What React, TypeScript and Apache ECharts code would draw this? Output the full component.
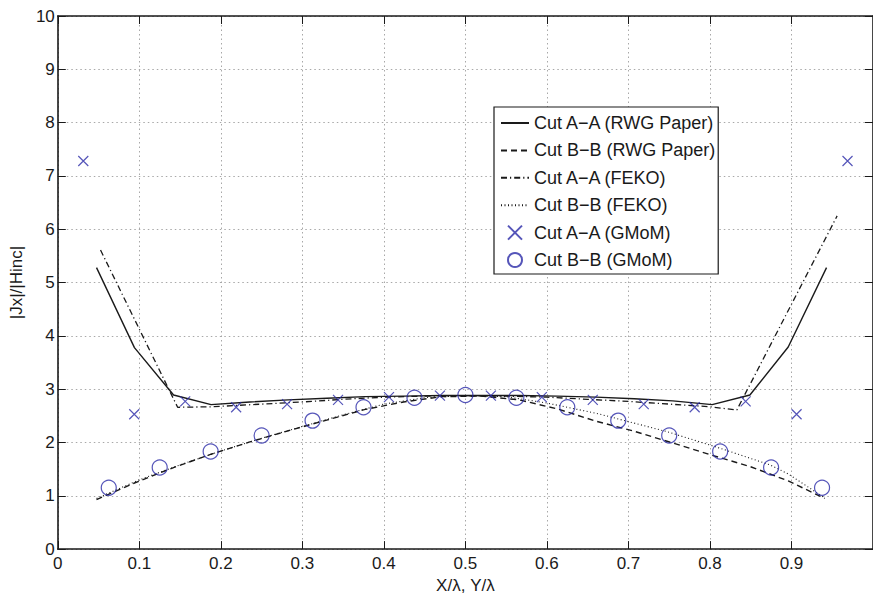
import React, { useEffect, useRef } from "react";
import * as echarts from "echarts";

// ---- data ----
const X_AA_RWG = [0.0475, 0.094, 0.142, 0.188, 0.2356, 0.2827, 0.3299, 0.3771, 0.4242, 0.4714, 0.5186, 0.5657, 0.6129, 0.6601, 0.7072, 0.7544, 0.8027, 0.849, 0.896, 0.943];
const Y_AA_RWG = [5.28, 3.78, 2.89, 2.71, 2.76, 2.8, 2.83, 2.86, 2.87, 2.88, 2.88, 2.88, 2.87, 2.85, 2.82, 2.78, 2.71, 2.89, 3.79, 5.28];

const X_BB_RWG = [0.0475, 0.094, 0.142, 0.188, 0.2356, 0.2827, 0.3299, 0.3771, 0.4242, 0.4714, 0.5186, 0.5657, 0.6129, 0.6601, 0.7072, 0.7544, 0.8027, 0.849, 0.896, 0.9407];
const Y_BB_RWG = [0.93, 1.24, 1.53, 1.78, 2.01, 2.22, 2.42, 2.62, 2.76, 2.86, 2.87, 2.8, 2.63, 2.4, 2.21, 1.99, 1.76, 1.55, 1.28, 0.95];

const X_AA_FEKO = [0.0524, 0.147, 0.19, 0.25, 0.3, 0.35, 0.4, 0.45, 0.5, 0.55, 0.6, 0.65, 0.7, 0.75, 0.8, 0.833, 0.956];
const Y_AA_FEKO = [5.61, 2.66, 2.67, 2.72, 2.76, 2.81, 2.85, 2.87, 2.88, 2.87, 2.85, 2.81, 2.77, 2.72, 2.67, 2.61, 6.25];

const X_BB_FEKO = [0.0475, 0.1, 0.15, 0.2, 0.25, 0.3, 0.35, 0.4, 0.45, 0.5, 0.55, 0.6, 0.6626, 0.748, 0.8128, 0.8737, 0.896, 0.9407];
const Y_BB_FEKO = [0.95, 1.3, 1.58, 1.84, 2.08, 2.3, 2.52, 2.72, 2.84, 2.88, 2.86, 2.74, 2.54, 2.2, 1.89, 1.58, 1.41, 0.96];

const X_AA_GMOM = [0.03125, 0.09375, 0.15625, 0.21875, 0.28125, 0.34375, 0.40625, 0.46875, 0.53125, 0.59375, 0.65625, 0.71875, 0.78125, 0.84375, 0.90625, 0.96875];
const Y_AA_GMOM = [7.28, 2.53, 2.77, 2.66, 2.72, 2.8, 2.85, 2.88, 2.88, 2.85, 2.8, 2.72, 2.66, 2.77, 2.53, 7.28];

const X_BB_GMOM = [0.0625, 0.125, 0.1875, 0.25, 0.3125, 0.375, 0.4375, 0.5, 0.5625, 0.625, 0.6875, 0.75, 0.8125, 0.875, 0.9375];
const Y_BB_GMOM = [1.15, 1.53, 1.83, 2.13, 2.41, 2.66, 2.84, 2.89, 2.84, 2.66, 2.41, 2.13, 1.83, 1.53, 1.15];

const SERIES_NAMES = [
  "Cut A\u2212A (RWG Paper)",
  "Cut B\u2212B (RWG Paper)",
  "Cut A\u2212A (FEKO)",
  "Cut B\u2212B (FEKO)",
  "Cut A\u2212A (GMoM)",
  "Cut B\u2212B (GMoM)",
];
const X_LABEL = "X/\u03bb, Y/\u03bb";
const Y_LABEL = "|Jx|/|Hinc|";

const zip = (xs: number[], ys: number[]) => xs.map((x, i) => [x, ys[i]]);

const FONT = "'Liberation Sans', Arial, Helvetica, sans-serif";
const INK = "#1a1a1a";
const BLUE = "#2a2aa8";

export default function App() {
  const ref = useRef<HTMLDivElement>(null);
  useEffect(() => {
    if (!ref.current) return;
    const chart = echarts.init(ref.current, undefined, { renderer: "svg" });
    const lineSeries = (name: string, xs: number[], ys: number[], type: any, width: number) => ({
      name,
      type: "line",
      data: zip(xs, ys),
      showSymbol: false,
      symbol: "none",
      lineStyle: { color: INK, width, type },
      itemStyle: { color: "transparent", borderColor: "transparent", opacity: 0 },
      z: 3,
    });
    chart.setOption({
      animation: false,
      backgroundColor: "#ffffff",
      textStyle: { fontFamily: FONT },
      grid: { left: 56, top: 16, width: 821, height: 539, containLabel: false },
      legend: {
        orient: "vertical",
        left: 494,
        top: 107,
        itemWidth: 28,
        itemHeight: 14,
        itemGap: 7.4,
        padding: [6, 3, 4, 6],
        backgroundColor: "#ffffff",
        borderColor: INK,
        borderWidth: 1.2,
        textStyle: { fontSize: 18, color: INK, fontFamily: FONT, lineHeight: 20 },
        data: SERIES_NAMES.map((name, i) =>
          i < 4 ? { name, itemStyle: { opacity: 0, color: "transparent", borderColor: "transparent" } } : { name }
        ),
      },
      xAxis: [
        {
          type: "value",
          min: 0,
          max: 1,
          interval: 0.1,
          position: "bottom",
          name: X_LABEL,
          nameLocation: "middle",
          nameGap: 24,
          nameTextStyle: { fontSize: 17, color: INK, fontFamily: FONT },
          axisLine: { show: true, onZero: false, lineStyle: { color: INK, width: 1.6 } },
          axisTick: { show: true, inside: true, length: 8, lineStyle: { color: INK, width: 1 } },
          axisLabel: {
            fontSize: 17,
            color: INK,
            margin: 6,
            showMaxLabel: false,
            fontFamily: FONT,
            formatter: (v: number) => (v === 0 ? "0" : v.toFixed(1)),
          },
          splitLine: { show: true, lineStyle: { color: "#a8a8a8", type: [1.5, 3], width: 1 } },
        },
        {
          type: "value",
          min: 0,
          max: 1,
          interval: 0.1,
          position: "top",
          axisLine: { show: true, onZero: false, lineStyle: { color: INK, width: 1.6 } },
          axisTick: { show: true, inside: true, length: 8, lineStyle: { color: INK, width: 1 } },
          axisLabel: { show: false },
          splitLine: { show: false },
        },
      ],
      yAxis: [
        {
          type: "value",
          min: 0,
          max: 10,
          interval: 1,
          position: "left",
          name: Y_LABEL,
          nameLocation: "middle",
          nameGap: 28,
          nameRotate: 90,
          nameTextStyle: { fontSize: 17, color: INK, fontFamily: FONT },
          axisLine: { show: true, onZero: false, lineStyle: { color: INK, width: 1.6 } },
          axisTick: { show: true, inside: true, length: 8, lineStyle: { color: INK, width: 1 } },
          axisLabel: { fontSize: 17, color: INK, margin: 3, fontFamily: FONT },
          splitLine: { show: true, lineStyle: { color: "#a8a8a8", type: [1.5, 3], width: 1 } },
        },
        {
          type: "value",
          min: 0,
          max: 10,
          interval: 1,
          position: "right",
          axisLine: { show: true, onZero: false, lineStyle: { color: INK, width: 1.6 } },
          axisTick: { show: true, inside: true, length: 8, lineStyle: { color: INK, width: 1 } },
          axisLabel: { show: false },
          splitLine: { show: false },
        },
      ],
      series: [
        lineSeries(SERIES_NAMES[0], X_AA_RWG, Y_AA_RWG, "solid", 1.4),
        lineSeries(SERIES_NAMES[1], X_BB_RWG, Y_BB_RWG, [6, 4], 1.4),
        lineSeries(SERIES_NAMES[2], X_AA_FEKO, Y_AA_FEKO, [6, 3, 1.2, 3], 1.3),
        lineSeries(SERIES_NAMES[3], X_BB_FEKO, Y_BB_FEKO, [1, 2.5], 1.1),
        {
          name: SERIES_NAMES[4],
          type: "scatter",
          data: zip(X_AA_GMOM, Y_AA_GMOM),
          symbol: "path://M0,0L10,10M10,0L0,10",
          symbolSize: 10,
          itemStyle: { color: "transparent", borderColor: BLUE, borderWidth: 1.2 },
          z: 4,
        },
        {
          name: SERIES_NAMES[5],
          type: "scatter",
          data: zip(X_BB_GMOM, Y_BB_GMOM),
          symbol: "circle",
          symbolSize: 15,
          itemStyle: { color: "transparent", borderColor: BLUE, borderWidth: 1.2 },
          z: 4,
        },
      ],
    });
    return () => chart.dispose();
  }, []);
  return (
    <div
      ref={ref}
      style={{ position: "fixed", left: 0, top: 0, width: 873, height: 599, background: "#fff" }}
    />
  );
}
